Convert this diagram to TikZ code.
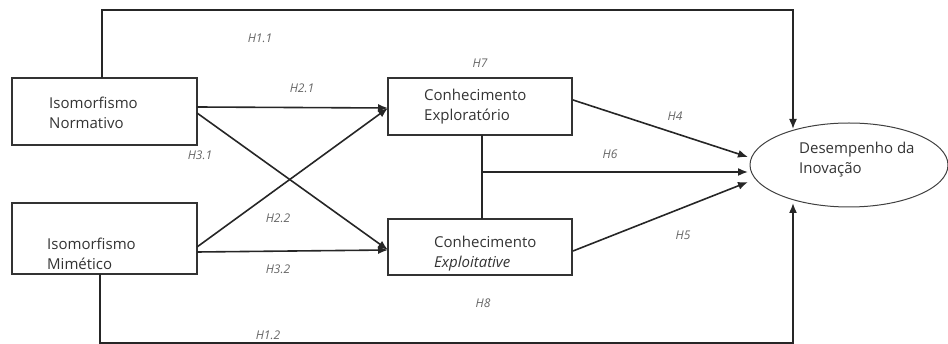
\documentclass[tikz,border=0pt]{standalone}
\usepackage{fontspec}
\setmainfont{Open Sans}
\usetikzlibrary{arrows.meta,shapes.geometric}
\begin{document}
\begin{tikzpicture}[x=1pt,y=-1pt,
  boxnode/.style={draw=black!80,line width=1.6pt,rectangle,inner sep=0pt},
  boxtext/.style={align=left,font=\fontsize{15}{20}\selectfont,text=black!80,anchor=west,inner sep=0pt},
  hyp/.style={font=\itshape\fontsize{12}{14}\selectfont,text=black!60},
  conn/.style={draw=black!85,line width=1.6pt},
  arr/.style={conn,-{Latex[length=10pt,width=8pt]}}]
\useasboundingbox (0,0) rectangle (948,344);
% boxes
\node[boxnode,minimum width=185pt,minimum height=67pt] (norm) at (104.5,111.5) {};
\node[boxnode,minimum width=185pt,minimum height=71pt] (mim) at (104.5,238.5) {};
\node[boxnode,minimum width=184pt,minimum height=57pt] (expr) at (480,106.5) {};
\node[boxnode,minimum width=184pt,minimum height=56pt] (expt) at (480,247) {};
\node[draw=black!75,line width=1pt,ellipse,minimum width=198pt,minimum height=84pt,inner sep=0pt] (des) at (849,165) {};
% texts
\node[boxtext] (tnorm) at (49,113) {Isomorfismo\\Normativo};
\node[boxtext] (tmim) at (47,254) {Isomorfismo\\Mimético};
\node[boxtext] (texpr) at (424,107) {Conhecimento\\Exploratório};
\node[boxtext] (texpt) at (434,254) {Conhecimento\\\itshape Exploitative};
\node[boxtext] (tdes) at (799,160) {Desempenho da\\Inovação};
% coordinates
\coordinate (tl) at (102,10);
\coordinate (tr) at (793,10);
\coordinate (bl) at (100,343);
\coordinate (br) at (793,343);
\coordinate (n1) at (197,107);
\coordinate (n2) at (197,113);
\coordinate (m1) at (197,247);
\coordinate (m2) at (197,252);
\coordinate (e1) at (388,108);
\coordinate (e2) at (388,250);
\coordinate (r4) at (573,100);
\coordinate (r5) at (573,251);
\coordinate (v1) at (482,135);
\coordinate (v2) at (482,219);
\coordinate (vm) at (482,172);
\coordinate (d4) at (748,157);
\coordinate (d6) at (748,172);
\coordinate (d5) at (748,182);
\coordinate (dt) at (793,129);
\coordinate (db) at (793,203);
% connectors
\draw[arr] (102,78) -- (tl) -- (tr) -- (dt);
\draw[arr] (100,274) -- (bl) -- (br) -- (db);
\draw[arr] (n1) -- (e1);
\draw[arr] (n2) -- (e2);
\draw[arr] (m1) -- (e1);
\draw[arr] (m2) -- (e2);
\draw[arr] (r4) -- (d4);
\draw[arr] (r5) -- (d5);
\draw[conn] (v1) -- (v2);
\draw[arr] (vm) -- (d6);
% labels
\node[hyp] (h11) at (260,38) {H1.1};
\node[hyp] (h21) at (302,88) {H2.1};
\node[hyp] (h31) at (200,155) {H3.1};
\node[hyp] (h7) at (480,63) {H7};
\node[hyp] (h4) at (675,116) {H4};
\node[hyp] (h6) at (610,154) {H6};
\node[hyp] (h22) at (278,218) {H2.2};
\node[hyp] (h32) at (278,269) {H3.2};
\node[hyp] (h5) at (683,235) {H5};
\node[hyp] (h8) at (483,303) {H8};
\node[hyp] (h12) at (268,335) {H1.2};
\end{tikzpicture}
\end{document}
